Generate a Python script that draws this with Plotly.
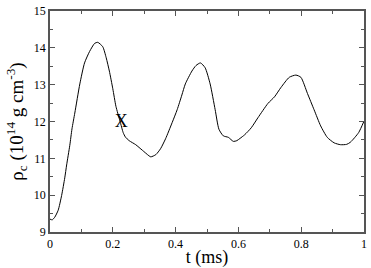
import plotly.graph_objects as go

t_ms = [0.0, 0.007, 0.015, 0.026, 0.037, 0.047, 0.053, 0.063, 0.07, 0.079, 0.095, 0.110, 0.126, 0.142,
        0.152, 0.168, 0.179, 0.189, 0.200, 0.210, 0.223, 0.233, 0.240, 0.252, 0.273, 0.294, 0.315,
        0.321, 0.337, 0.352, 0.368, 0.389, 0.405, 0.420, 0.431, 0.452, 0.465, 0.479, 0.494, 0.510,
        0.526, 0.538, 0.552, 0.568, 0.584, 0.595, 0.605, 0.620, 0.641, 0.662, 0.694, 0.715,
        0.736, 0.762, 0.783, 0.799, 0.820, 0.841, 0.862, 0.883, 0.905, 0.925, 0.945, 0.957,
        0.983, 1.0]
rho_c = [9.35, 9.33, 9.40, 9.59, 9.99, 10.47, 10.82, 11.35, 11.80, 12.23, 13.02, 13.59, 13.90, 14.12,
         14.15, 14.03, 13.73, 13.37, 12.89, 12.41, 12.01, 11.70, 11.58, 11.48, 11.37, 11.22, 11.07,
         11.04, 11.10, 11.26, 11.53, 11.97, 12.32, 12.72, 13.02, 13.37, 13.52, 13.59, 13.46, 13.02,
         12.32, 11.79, 11.61, 11.57, 11.46, 11.48, 11.54, 11.64, 11.83, 12.10, 12.49, 12.67,
         12.93, 13.20, 13.26, 13.20, 12.76, 12.32, 11.88, 11.57, 11.42, 11.37, 11.38, 11.44,
         11.70, 12.01]

x_ticks = [0, 0.2, 0.4, 0.6, 0.8, 1]
x_ticklabels = ["0", "0.2", "0.4", "0.6", "0.8", "1"]
y_ticks = [9, 10, 11, 12, 13, 14, 15]

marker_t = [0.227]
marker_rho = [11.97]
marker_text = ["X"]

font = "Liberation Serif"

fig = go.Figure()
fig.add_trace(go.Scatter(x=t_ms, y=rho_c, mode="lines", line=dict(color="black", width=1, shape="spline", smoothing=0.6),
                         showlegend=False, hoverinfo="skip"))
fig.add_trace(go.Scatter(x=marker_t, y=marker_rho, mode="text", text=marker_text,
                         textfont=dict(family=font, size=18, color="black"), showlegend=False))

axis_common = dict(showline=True, linecolor="#555555", linewidth=1.5, mirror="ticks", ticks="inside",
                   ticklen=5, tickwidth=1, tickcolor="#555555", showgrid=False, zeroline=False,
                   ticklabeloverflow="allow",
                   tickfont=dict(family=font, size=12, color="black"))

fig.update_xaxes(range=[0, 1], tickvals=x_ticks, ticktext=x_ticklabels,
                 minor=dict(dtick=0.1, ticks="inside", ticklen=3, tickcolor="#555555", showgrid=False),
                 title=dict(text="t (ms)", font=dict(family=font, size=18, color="black"), standoff=0),
                 **axis_common)
fig.update_yaxes(range=[9, 15], tickvals=y_ticks,
                 minor=dict(dtick=0.5, ticks="inside", ticklen=3, tickcolor="#555555", showgrid=False),
                 title=dict(text="ρ<sub>c</sub> (10<sup>14</sup> g cm<sup>-3</sup>)",
                            font=dict(family=font, size=19, color="black"), standoff=5),
                 **axis_common)

fig.update_layout(width=371, height=268, margin=dict(l=50, r=4, t=5, b=36),
                  plot_bgcolor="white", paper_bgcolor="white")

fig.write_html("out.html", config={"displayModeBar": False},
               post_script="document.body.style.margin='0';document.body.style.overflow='hidden';")
